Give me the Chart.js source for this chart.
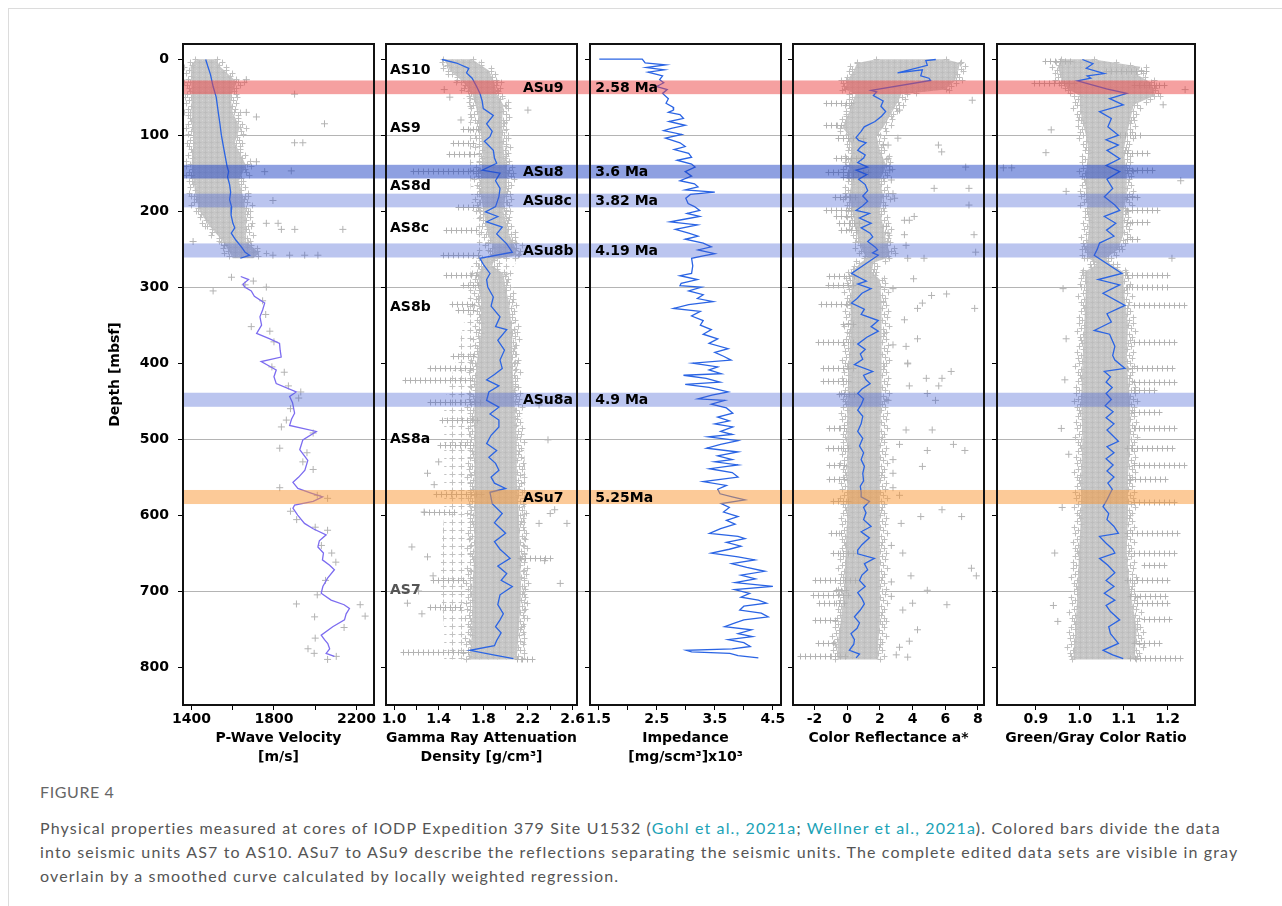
<!DOCTYPE html>
<html>
<head>
<meta charset="utf-8">
<title>Figure 4 - Site U1532 physical properties</title>
<script src="https://cdn.jsdelivr.net/npm/chart.js@4.4.1/dist/chart.umd.min.js"></script>
<style>
  body { margin: 0; background: #fff; }
  #page { position: relative; width: 1282px; height: 906px; overflow: hidden; background: #fff; }
  #page .edge { position: absolute; left: 8px; top: 8px; right: -2px; bottom: -2px; border-left: 1px solid #dcdcdc; border-top: 1px solid #dcdcdc; }
  canvas { position: absolute; top: 30px; }
  .figno { position: absolute; left: 40px; top: 782px; font: 16px Lato, sans-serif; color: #666; letter-spacing: 0.6px; }
  .caption { position: absolute; left: 40px; top: 816px; font: 16px/24px Lato, sans-serif; color: #555; letter-spacing: 1.15px; white-space: nowrap; }
  .caption a { color: #1ba2b6; text-decoration: none; }
</style>
</head>
<body>
<div id="page">
  <div class="edge"></div>
  <canvas id="pwave" width="286" height="740" style="left:100px"></canvas>
  <canvas id="gra" width="214" height="740" style="left:376px"></canvas>
  <canvas id="imp" width="213" height="740" style="left:580px"></canvas>
  <canvas id="refl" width="214" height="740" style="left:783px"></canvas>
  <canvas id="ratio" width="213" height="740" style="left:987px"></canvas>
  <div class="figno">FIGURE 4</div>
  <div class="caption">
    Physical properties measured at cores of IODP Expedition 379 Site U1532 (<a>Gohl et al., 2021a</a>; <a>Wellner et al., 2021a</a>). Colored bars divide the data<br>
    into seismic units AS7 to AS10. ASu7 to ASu9 describe the reflections separating the seismic units. The complete edited data sets are visible in gray<br>
    overlain by a smoothed curve calculated by locally weighted regression.
  </div>
</div>
<script>
// depth axis, shared by all five panels
const depthTicks = [0, 100, 200, 300, 400, 500, 600, 700, 800]
const gridDepths = [100, 300, 500, 700]

// seismic reflectors (colored bars), depth in mbsf
const bandTop = [28, 139, 177, 242.5, 439, 567]
const bandBottom = [46, 157, 195, 261, 457.5, 585.5]
const reflectorNames = ['ASu9', 'ASu8', 'ASu8c', 'ASu8b', 'ASu8a', 'ASu7']
const reflectorAges = ['2.58 Ma', '3.6 Ma', '3.82 Ma', '4.19 Ma', '4.9 Ma', '5.25Ma']
const unitNames = ['AS10', 'AS9', 'AS8d', 'AS8c', 'AS8b', 'AS8a', 'AS7']
const unitDepths = [15, 91, 168, 222, 326, 501, 699]

// P-wave velocity [m/s]
const pwDepth = [0.4, 10, 20, 36, 50, 70, 85, 100, 115, 130, 140, 148, 155, 165, 175, 185, 195, 205, 216, 222, 229, 238, 247, 254, 258, 262]
const pwVel = [1469, 1480, 1492, 1505, 1520, 1530, 1538, 1545, 1555, 1565, 1572, 1580, 1575, 1585, 1590, 1585, 1595, 1592, 1601, 1610, 1593, 1615, 1642, 1660, 1682, 1637]
const pwDepthLow = [286, 290, 296, 300, 305, 312, 321, 330, 339, 350,
  361, 368, 374, 383, 392, 398, 409, 418, 427, 438,
  444, 452, 466, 474, 482, 490, 501, 514, 528, 541,
  550, 557, 565, 571, 576, 582, 587, 591, 600, 611,
  618, 626, 634, 642, 650, 659, 666, 672, 683, 694,
  703, 712, 718, 723, 730, 738, 747, 758, 764, 769,
  776, 782, 786]
const pwVelLow = [1639, 1677, 1650, 1658, 1690, 1705, 1755, 1745, 1732, 1740,
  1716, 1780, 1827, 1830, 1835, 1738, 1811, 1800, 1811, 1908,
  1876, 1890, 1900, 1885, 1876, 2005, 1940, 1925, 1964, 1950,
  1920, 1892, 1916, 1980, 2036, 1990, 1900, 1892, 1915, 1948,
  1990, 2053, 2020, 2013, 2040, 2035, 2070, 2093, 2060, 2037,
  2029, 2077, 2140, 2166, 2150, 2142, 2085, 2029, 2045, 2061,
  2070, 2053, 2093]
const pwCloudDepth = [0, 10, 30, 50, 70, 90, 110, 140, 160, 180, 200, 220, 240, 255, 262]
const pwCloudMin = [1420, 1395, 1400, 1400, 1400, 1405, 1410, 1400, 1410, 1420, 1440, 1488, 1553, 1586, 1600]
const pwCloudMax = [1520, 1540, 1620, 1590, 1600, 1635, 1610, 1665, 1630, 1650, 1665, 1665, 1665, 1730, 1700]
const pwOutVel = [1666, 1900, 1666, 1715, 2045, 1900, 1940, 1715, 1755, 1884,
  1400, 1795, 1763, 1820, 1836, 1901, 2134, 1408, 1561, 1795,
  1876, 1949, 2013, 1594, 1505, 1763, 1700, 1660, 1745, 1760,
  1690, 1780, 1800, 1790, 1850, 1870, 1930, 1920, 1880, 1860,
  1836, 1990, 1828, 1960, 1940, 1990, 1828, 2010, 2060, 1880,
  1910, 2000, 2060, 2030, 2080, 2100, 2050, 2010, 1909, 2218,
  2242, 1997, 2140, 2000, 1965, 1995, 2102, 2060]
const pwOutDepth = [27, 46, 70, 76, 85, 110, 110, 135, 148, 147,
  153, 186, 216, 216, 224, 224, 224, 240, 245, 258,
  258, 258, 258, 287, 305, 300, 292, 297, 318, 336,
  352, 358, 372, 405, 412, 430, 438, 446, 460, 475,
  484, 492, 512, 518, 530, 540, 564, 574, 578, 595,
  606, 616, 620, 640, 650, 662, 686, 705, 717, 718,
  733, 734, 748, 762, 776, 782, 786, 790]

// gamma ray attenuation density [g/cm3]
const graDepth = [0.4, 5, 12, 18, 25, 36, 45, 55, 65, 74,
  85, 95, 102, 108, 120, 130, 137, 146, 150, 160,
  170, 181, 194, 201, 207, 214, 221, 230, 243, 254,
  262, 270, 282, 290, 300, 313, 325, 339, 352, 356,
  370, 383, 396, 407, 415, 422, 430, 438, 449, 458,
  467, 475, 484, 495, 506, 515, 524, 532, 541, 550,
  558, 565, 570, 585, 598, 610, 624, 635, 645, 657,
  667, 677, 686, 694, 705, 718, 730, 738, 747, 755,
  765, 772, 778, 784, 789]
const graDensity = [1.43, 1.56, 1.67, 1.65, 1.70, 1.74, 1.77, 1.79, 1.80, 1.89,
  1.83, 1.88, 1.86, 1.81, 1.89, 1.90, 1.92, 1.79, 1.95, 1.91,
  1.95, 1.94, 1.91, 1.82, 1.93, 1.83, 1.97, 1.92, 2.01, 2.06,
  1.77, 1.80, 1.86, 1.83, 1.84, 1.89, 1.87, 1.95, 1.91, 2.01,
  1.93, 1.99, 1.95, 1.97, 1.90, 1.83, 1.94, 1.85, 1.83, 1.94,
  1.86, 1.94, 1.94, 1.87, 1.83, 1.92, 1.85, 1.91, 1.94, 1.87,
  1.90, 2.00, 1.86, 1.88, 1.97, 1.90, 2.00, 1.90, 1.95, 2.04,
  1.93, 2.01, 1.96, 2.06, 1.95, 1.93, 1.98, 1.95, 1.91, 1.96,
  1.92, 1.90, 1.68, 1.89, 2.07]
const graCloudDepth = [0, 15, 30, 45, 60, 80, 100, 130, 150, 180, 200, 230, 245, 258, 264, 272, 282, 300, 320, 360, 400, 450, 500, 550, 600, 650, 700, 750, 790]
const graCloudMin = [1.45, 1.50, 1.62, 1.70, 1.73, 1.76, 1.78, 1.80, 1.78, 1.78, 1.80, 1.84, 1.88, 1.90, 1.78, 1.80, 1.76, 1.76, 1.78, 1.78, 1.74, 1.72, 1.72, 1.72, 1.72, 1.72, 1.70, 1.70, 1.68]
const graCloudMax = [1.70, 1.85, 1.90, 1.92, 1.98, 1.97, 1.97, 1.99, 2.02, 2.00, 1.98, 2.03, 2.08, 2.10, 1.90, 1.88, 1.98, 2.00, 2.03, 2.06, 2.06, 2.08, 2.10, 2.10, 2.12, 2.13, 2.14, 2.12, 2.10]
const graHaloDepth = [0, 30, 60, 100, 150, 200, 250, 262, 285, 330, 400, 450, 500, 550, 600, 650, 700, 750, 790]
const graHaloMin = [1.40, 1.55, 1.65, 1.68, 1.68, 1.70, 1.75, 1.70, 1.68, 1.65, 1.55, 1.45, 1.45, 1.45, 1.45, 1.42, 1.42, 1.45, 1.45]
const graHaloMax = [1.75, 1.95, 2.02, 2.02, 2.04, 2.04, 2.12, 2.12, 2.02, 2.08, 2.10, 2.14, 2.16, 2.18, 2.18, 2.20, 2.20, 2.18, 2.18]
const graStreakDepth = [92, 110, 125, 147, 194, 225, 258, 284, 297, 322, 330, 390, 407, 422, 451, 475, 508, 572, 596, 657, 686, 721, 780, 789]
const graStreakFrom = [1.62, 1.53, 1.49, 1.17, 1.57, 1.47, 1.44, 1.47, 1.62, 1.52, 1.57, 1.53, 1.32, 1.10, 1.32, 1.43, 1.41, 1.38, 1.27, 2.13, 1.35, 1.32, 1.08, 2.10]
const graStreakTo = [1.76, 1.74, 1.74, 1.77, 1.77, 1.77, 1.77, 1.77, 1.77, 1.74, 1.74, 1.74, 1.71, 1.71, 1.77, 1.77, 1.68, 1.80, 1.56, 2.43, 1.65, 1.62, 1.70, 2.24]
const graOutDensity = [2.20, 2.38, 1.27, 1.16, 1.12, 1.35, 2.49, 2.55, 2.44, 2.40, 1.30, 1.36, 1.40, 2.30, 2.35, 1.22, 1.25, 1.30, 2.30, 1.45, 1.50, 1.60]
const graOutDepth = [67, 501, 596, 642, 716, 680, 690, 611, 593, 598, 545, 560, 530, 611, 660, 700, 730, 655, 455, 40, 50, 80]

// impedance [mg/scm3] x10^3
const impDepth = [0, 0, 5, 7.5, 11, 14, 17, 22, 27, 31,
  36, 40, 45, 52, 58, 63, 67, 70, 73, 78,
  82, 87, 91, 94, 99, 104, 110, 115, 119, 124,
  129, 133, 138, 142, 148, 154, 160, 164, 168, 172,
  175, 178, 183, 190, 194, 199, 203, 207, 211, 214,
  218, 224, 229, 233, 237, 242, 247, 251, 256, 259,
  262, 272, 282, 285, 290, 295, 298, 300, 305, 310,
  315, 319, 323, 328, 332, 338, 344, 350, 356, 362,
  368, 374, 381, 386, 391, 396, 400, 405, 409, 414,
  416, 420, 425, 428, 432, 438, 442, 447, 449, 454,
  459, 466, 471, 476, 480, 484, 490, 494, 497, 502,
  507, 512, 517, 522, 527, 530, 534, 539, 544, 550,
  556, 561, 566, 572, 576, 580, 585, 590, 596, 602,
  607, 612, 618, 624, 628, 631, 636, 641, 645, 650,
  655, 659, 664, 669, 674, 679, 684, 689, 694, 698,
  703, 708, 712, 716, 720, 725, 729, 734, 738, 742,
  747, 751, 756, 760, 764, 768, 773, 776, 778, 780,
  782, 785, 788]
const impValue = [1.51, 2.25, 2.30, 2.65, 2.32, 2.63, 2.35, 2.60, 2.55, 2.62,
  2.50, 2.68, 2.60, 2.70, 2.66, 2.78, 2.79, 2.70, 2.90, 2.96,
  2.71, 2.99, 2.75, 2.62, 2.93, 2.65, 2.90, 2.99, 2.80, 3.05,
  3.10, 2.85, 3.10, 3.16, 2.99, 3.10, 2.90, 3.15, 3.21, 2.99,
  3.50, 3.08, 3.00, 3.04, 3.15, 3.24, 3.02, 3.24, 2.95, 2.73,
  3.20, 2.82, 3.05, 3.21, 2.99, 3.30, 3.44, 3.21, 3.50, 3.30,
  3.10, 3.12, 3.10, 2.90, 3.20, 2.92, 2.90, 3.27, 3.05, 3.30,
  3.20, 3.47, 3.05, 2.79, 3.25, 3.10, 3.30, 3.25, 3.44, 3.30,
  3.55, 3.40, 3.73, 3.50, 3.65, 3.78, 3.12, 3.55, 3.40, 3.61,
  2.96, 3.35, 3.59, 2.99, 3.40, 3.73, 3.45, 3.21, 3.67, 3.44,
  3.70, 3.81, 3.55, 3.75, 3.50, 3.81, 3.60, 3.80, 3.39, 3.90,
  3.60, 3.36, 3.90, 3.55, 3.80, 3.50, 3.90, 3.41, 3.80, 3.90,
  3.30, 3.70, 3.55, 3.59, 3.80, 4.02, 3.61, 3.75, 3.65, 3.90,
  3.70, 3.85, 3.60, 3.41, 3.90, 4.02, 3.70, 3.95, 3.75, 3.44,
  3.90, 4.19, 3.79, 4.05, 4.36, 3.95, 4.20, 3.85, 4.50, 3.84,
  4.10, 3.95, 4.25, 4.39, 4.00, 3.93, 4.30, 4.42, 4.00, 3.85,
  3.67, 4.13, 3.90, 4.15, 3.73, 4.00, 4.11, 3.80, 3.01, 3.10,
  3.76, 3.90, 4.25]

// color reflectance a*
const reflDepth = [0.4, 1.7, 8, 18, 14, 22, 25, 28, 41, 43,
  48, 55, 62, 69, 75, 82, 89, 95, 103, 107,
  110, 116, 120, 126, 130, 136, 142, 146, 152, 158,
  165, 173, 180, 187, 193, 199, 203, 209, 216, 222,
  229, 234, 240, 247, 251, 255, 258, 282, 288, 292,
  296, 302, 308, 315, 321, 329, 336, 344, 352, 358,
  366, 375, 382, 388, 395, 402, 411, 416, 422, 427,
  434, 440, 447, 455, 462, 470, 480, 490, 499, 509,
  518, 527, 536, 545, 555, 562, 570, 576, 582, 590,
  597, 606, 615, 622, 630, 639, 646, 651, 657, 664,
  672, 679, 686, 694, 702, 710, 717, 725, 734, 742,
  749, 756, 764, 770, 778, 783, 788]
const reflValue = [5.42, 4.81, 4.90, 3.08, 4.60, 4.50, 5.00, 5.10, 1.46, 1.80,
  1.60, 2.20, 2.06, 2.35, 2.10, 1.70, 1.04, 0.85, 0.54, 0.70,
  1.15, 0.80, 0.64, 1.10, 1.00, 0.64, 1.25, 0.54, 1.20, 0.70,
  1.10, 1.25, 0.95, 1.25, 0.95, 0.54, 1.36, 0.75, 1.46, 0.85,
  1.40, 1.56, 1.25, 1.70, 1.86, 1.55, 1.90, 0.26, 0.80, 1.17,
  0.64, 1.46, 0.90, 0.60, 0.26, 1.05, 0.85, 1.90, 1.46, 1.90,
  1.20, 0.64, 1.10, 0.80, 0.95, 0.44, 1.56, 1.00, 1.15, 1.40,
  0.90, 0.64, 1.00, 0.85, 0.64, 0.95, 0.85, 0.64, 0.95, 0.75,
  1.00, 0.85, 1.05, 0.95, 1.00, 0.80, 0.85, 0.85, 1.36, 1.00,
  1.15, 1.00, 1.46, 0.85, 1.36, 0.90, 0.64, 0.64, 1.66, 1.05,
  1.25, 0.90, 0.75, 1.10, 0.64, 0.90, 1.05, 0.80, 0.44, 0.75,
  0.60, 0.23, 0.44, 0.40, 0.13, 0.75, 0.54]
const reflCloudDepth = [0, 5, 15, 28, 40, 46, 52, 60, 75, 90, 100, 120, 140, 160, 180, 200, 220, 240, 255, 262, 268, 280, 290, 320, 360, 400, 450, 500, 550, 600, 650, 700, 740, 770, 790]
const reflCloudMin = [1.8, 0.6, 0.4, 0.0, -0.1, 0.5, 0.4, 0.3, 0.0, -0.3, 0.1, 0.3, 0.1, 0.3, 0.1, 0.3, 0.5, 0.7, 1.0, 1.2, 0.8, 0.3, 0.3, 0.2, 0.2, 0.1, 0.0, 0.0, 0.0, 0.0, -0.1, -0.2, -0.4, -0.6, -0.6]
const reflCloudMax = [6.0, 6.9, 6.8, 6.6, 6.0, 3.3, 3.2, 3.0, 2.6, 2.2, 1.8, 2.0, 2.4, 2.0, 2.2, 2.0, 2.2, 2.4, 2.6, 2.4, 1.6, 1.5, 2.0, 2.1, 2.1, 2.1, 2.1, 2.0, 2.0, 2.0, 2.0, 2.0, 2.0, 1.9, 1.9]
const reflStreakDepth = [58, 87, 104, 130, 148, 155, 181, 199, 207, 216, 225, 286, 297, 322, 348, 372, 406, 424, 441, 486, 512, 534, 552, 582, 624, 650, 686, 699, 705, 716, 738, 769, 786]
const reflStreakFrom = [-1.29, -1.29, -0.58, -0.68, -1.19, -0.27, -0.78, -1.29, -0.68, -0.48, -0.38, -1.09, -1.19, -1.59, -0.27, -1.80, -1.49, -1.49, -0.48, -1.09, -1.19, -1.09, -1.09, -0.88, -0.98, -0.88, -2.00, -0.68, -2.10, -1.70, -2.00, -1.80, -2.91]
const reflStreakTo = [0.34, -0.07, 0.96, 0.96, 1.36, 0.75, 0.75, 0.54, 0.54, 0.75, 0.75, 0.54, 0.54, 0.34, 0.54, 0.54, 0.54, 0.13, 0.54, 0.13, 0.13, 0.13, 0.13, 0.13, -0.07, 0.54, 0.54, 0.13, 0.13, -0.07, -0.68, -0.68, 0.13]
const reflOutValue = [7.65, 3.2, 3.1, 2.2, 2.5, 5.58, 5.78, 2.5, 7.25, 2.6,
  2.7, 5.32, 7.45, 2.8, 2.9, 7.45, 4.1, 3.5, 3.8, 2.4,
  2.5, 3.5, 7.76, 3.6, 7.86, 3.7, 4.7, 4.06, 2.8, 5.16,
  6.08, 4.6, 4.3, 7.8, 3.5, 4.3, 2.8, 3.6, 3.7, 3.7,
  6.36, 4.84, 5.8, 3.8, 5.6, 4.9, 5.4, 2.5, 3.6, 5.2,
  3.2, 6.5, 4.9, 7.2, 2.8, 4.6, 2.8, 2.8, 3.2, 5.8,
  4.5, 7.0, 3.3, 2.7, 3.4, 7.6, 7.9, 3.9, 2.7, 4.9,
  2.7, 4.0, 6.1, 3.4, 4.3, 3.8, 3.2, 3.0, 3.7]
const reflOutDepth = [54, 67, 104, 113, 113, 113, 122, 131, 142, 146,
  159, 170, 170, 177, 183, 192, 207, 212, 212, 220,
  229, 231, 231, 245, 254, 262, 262, 289, 302, 311,
  309, 321, 328, 328, 343, 368, 376, 378, 400, 401,
  411, 420, 420, 430, 430, 440, 449, 449, 488, 488,
  507, 507, 515, 515, 527, 536, 545, 564, 574, 593,
  602, 602, 611, 640, 650, 670, 680, 680, 688, 699,
  707, 716, 718, 725, 751, 766, 774, 784, 787]

// green/gray color ratio
const ratioDepth = [0.4, 6, 12, 19, 22, 25, 28.5, 39, 45, 52,
  60, 69, 78, 89, 100, 106, 113, 120, 131, 140,
  148, 158, 170, 181, 192, 199, 207, 216, 225, 233,
  242, 250, 258, 282, 290, 297, 308, 324, 335, 346,
  357, 362, 378, 390, 396, 407, 411, 418, 425, 432,
  440, 448, 456, 464, 472, 480, 488, 496, 503, 510,
  518, 526, 534, 542, 550, 558, 566, 573, 580, 589,
  598, 606, 615, 624, 628, 637, 645, 650, 657, 666,
  676, 686, 694, 703, 712, 719, 727, 738, 747, 756,
  769, 778, 784, 789]
const ratioValue = [1.006, 1.030, 1.015, 1.056, 1.017, 1.025, 0.995, 1.061, 1.107, 1.068,
  1.099, 1.045, 1.072, 1.064, 1.088, 1.060, 1.088, 1.062, 1.091, 1.060,
  1.091, 1.062, 1.075, 1.056, 1.080, 1.091, 1.056, 1.082, 1.061, 1.078,
  1.045, 1.040, 1.033, 1.096, 1.042, 1.091, 1.053, 1.103, 1.062, 1.072,
  1.033, 1.068, 1.080, 1.075, 1.080, 1.103, 1.056, 1.070, 1.060, 1.074,
  1.060, 1.072, 1.058, 1.076, 1.060, 1.078, 1.062, 1.076, 1.088, 1.062,
  1.078, 1.060, 1.076, 1.062, 1.078, 1.064, 1.074, 1.068, 1.062, 1.053,
  1.066, 1.062, 1.078, 1.088, 1.045, 1.060, 1.075, 1.080, 1.045, 1.064,
  1.080, 1.060, 1.078, 1.056, 1.080, 1.060, 1.070, 1.091, 1.066, 1.070,
  1.088, 1.053, 1.075, 1.099]
const ratioCloudDepth = [0, 10, 20, 30, 40, 48, 60, 80, 100, 120, 150, 180, 200, 230, 250, 262, 270, 280, 300, 350, 400, 450, 500, 550, 600, 650, 700, 750, 790]
const ratioCloudMin = [0.96, 0.95, 0.955, 0.96, 0.975, 1.0, 1.0, 1.005, 1.014, 1.02, 1.014, 1.014, 1.02, 1.02, 1.014, 1.02, 1.04, 1.01, 1.014, 1.01, 1.006, 1.003, 1.006, 1.003, 1.003, 0.998, 0.995, 0.99, 0.985]
const ratioCloudMax = [1.03, 1.138, 1.13, 1.16, 1.17, 1.17, 1.123, 1.115, 1.107, 1.10, 1.107, 1.107, 1.10, 1.10, 1.088, 1.06, 1.07, 1.10, 1.10, 1.11, 1.107, 1.115, 1.115, 1.11, 1.11, 1.107, 1.115, 1.13, 1.125]
const ratioStreakDepth = [2, 31, 15, 34, 100, 124, 146, 181, 199, 214, 236, 284, 300, 324, 372, 407, 425, 435, 464, 486, 512, 534, 552, 583, 624, 650, 666, 686, 706, 716, 737, 768, 788]
const ratioStreakFrom = [0.920, 0.896, 1.060, 1.123, 1.092, 1.107, 1.107, 1.107, 1.107, 1.107, 1.107, 1.107, 1.107, 1.123, 1.123, 1.107, 1.123, 1.123, 1.123, 1.123, 1.107, 1.123, 1.115, 1.123, 1.107, 1.123, 1.146, 1.107, 1.115, 1.131, 1.146, 1.123, 1.115]
const ratioStreakTo = [0.983, 0.990, 1.154, 1.201, 1.146, 1.162, 1.170, 1.138, 1.185, 1.162, 1.138, 1.205, 1.205, 1.240, 1.217, 1.217, 1.221, 1.178, 1.185, 1.221, 1.217, 1.240, 1.201, 1.217, 1.221, 1.217, 1.201, 1.201, 1.201, 1.201, 1.213, 1.185, 1.240]
const ratioOutValue = [0.935, 0.923, 0.969, 0.962, 0.969, 0.966, 0.958, 0.943, 0.940, 0.826, 0.845, 0.950, 0.960, 0.975, 1.240, 1.19, 1.21, 1.23]
const ratioOutDepth = [93, 123, 174, 302, 368, 422, 486, 650, 719, 143, 143, 740, 590, 520, 40, 60, 262, 160]

// styles
const axisFont = { family: '"DejaVu Sans", Verdana, sans-serif', size: 14, weight: 'bold' }
const bandColors = ['rgba(235,65,65,0.5)', 'rgba(30,65,195,0.5)', 'rgba(60,90,210,0.35)', 'rgba(60,90,210,0.35)', 'rgba(60,90,210,0.35)', 'rgba(250,150,50,0.5)']
const curveBlue = '#2a64e4'
const curvePurple = '#7c6cf0'
const crossGray = '#b3b3b3'
// outward offsets (px) of the marks that roughen a cloud edge
const edgeJitter = [1, 4, 0, 6, 2, 5, 0, 3, 7, 1, 4, 2]

function points(xs, ys) {
  return xs.map((x, i) => ({ x: x, y: ys[i] }))
}

function cross(ctx, x, y, s) {
  ctx.moveTo(x - s, y)
  ctx.lineTo(x + s, y)
  ctx.moveTo(x, y - s)
  ctx.lineTo(x, y + s)
}

// tile of "+" marks used to texture the data clouds
function crossPattern(ctx, w, h, bg, fg, arm) {
  var c = document.createElement('canvas')
  c.width = w
  c.height = h
  var g = c.getContext('2d')
  if (bg) {
    g.fillStyle = bg
    g.fillRect(0, 0, w, h)
    g.fillStyle = '#d6d6d6'
    g.fillRect(0, 0, 1, 1)
  }
  g.strokeStyle = fg
  g.lineWidth = 1
  g.beginPath()
  cross(g, Math.floor(w / 2) + 0.5, Math.floor(h / 2) + 0.5, arm)
  g.stroke()
  return ctx.createPattern(c, 'repeat')
}

// polygon between the min and max edge of a data cloud
function fillCloud(ctx, xs, ys, c, style) {
  ctx.beginPath()
  c.depth.forEach(function (d, i) {
    var px = xs.getPixelForValue(c.min[i])
    var py = ys.getPixelForValue(d)
    if (i) ctx.lineTo(px, py)
    else ctx.moveTo(px, py)
  })
  for (var i = c.depth.length - 1; i >= 0; i--) {
    ctx.lineTo(xs.getPixelForValue(c.max[i]), ys.getPixelForValue(c.depth[i]))
  }
  ctx.closePath()
  ctx.fillStyle = style
  ctx.fill()
}

// "+" marks along one edge of a cloud, pushed outwards by edgeJitter
function edgeCrosses(ctx, xs, ys, depth, vals, dir) {
  var k = 0
  ctx.beginPath()
  for (var i = 0; i < depth.length - 1; i++) {
    var y1 = ys.getPixelForValue(depth[i])
    var y2 = ys.getPixelForValue(depth[i + 1])
    var x1 = xs.getPixelForValue(vals[i])
    var x2 = xs.getPixelForValue(vals[i + 1])
    for (var y = y1; y < y2; y += 3) {
      var x = x1 + ((x2 - x1) * (y - y1)) / (y2 - y1) + dir * edgeJitter[k++ % edgeJitter.length]
      cross(ctx, Math.round(x) + 0.5, Math.round(y) + 0.5, 3)
    }
  }
  ctx.stroke()
}

// rows of "+" marks (core sections measured at one depth)
function drawStreaks(ctx, xs, ys, s) {
  ctx.beginPath()
  s.depth.forEach(function (d, i) {
    var y = Math.round(ys.getPixelForValue(d)) + 0.5
    var x1 = xs.getPixelForValue(s.from[i])
    var x2 = xs.getPixelForValue(s.to[i])
    for (var x = x1; x <= x2; x += 5) cross(ctx, Math.round(x) + 0.5, y, 3)
  })
  ctx.stroke()
}

function makeDeco(cfg) {
  return {
    id: 'deco',
    beforeDatasetsDraw(chart) {
      var ctx = chart.ctx
      var a = chart.chartArea
      var xs = chart.scales.x
      var ys = chart.scales.y
      ctx.save()
      // depth lines run on through the gap to the next panel
      ctx.strokeStyle = '#b4b4b4'
      ctx.lineWidth = 1
      gridDepths.forEach(function (d) {
        var y = Math.round(ys.getPixelForValue(d)) + 0.5
        ctx.beginPath()
        ctx.moveTo(a.left, y)
        ctx.lineTo(a.right + cfg.gap, y)
        ctx.stroke()
      })
      ctx.beginPath()
      ctx.rect(a.left, a.top, a.right - a.left, a.bottom - a.top)
      ctx.clip()
      if (cfg.halo) fillCloud(ctx, xs, ys, cfg.halo, crossPattern(ctx, 9, 8, null, '#c2c2c2', 3))
      if (cfg.cloud) {
        var c = cfg.cloud
        fillCloud(ctx, xs, ys, c, crossPattern(ctx, 6, 5, '#c8c8c8', '#bdbdbd', 2))
        ctx.strokeStyle = '#c0c0c0'
        ctx.lineWidth = 1
        edgeCrosses(ctx, xs, ys, c.depth, c.min, -1)
        edgeCrosses(ctx, xs, ys, c.depth, c.max, 1)
      }
      if (cfg.streaks) {
        ctx.strokeStyle = crossGray
        ctx.lineWidth = 1
        drawStreaks(ctx, xs, ys, cfg.streaks)
      }
      ctx.restore()
    },
    afterDatasetsDraw(chart) {
      var ctx = chart.ctx
      var a = chart.chartArea
      var xs = chart.scales.x
      var ys = chart.scales.y
      ctx.save()
      bandTop.forEach(function (t, i) {
        var y1 = ys.getPixelForValue(t)
        var y2 = ys.getPixelForValue(bandBottom[i])
        ctx.fillStyle = bandColors[i]
        ctx.fillRect(a.left, y1, a.right + cfg.gap - a.left, y2 - y1)
      })
      ctx.font = 'bold 14px "DejaVu Sans", Verdana, sans-serif'
      ctx.textBaseline = 'middle'
      ctx.textAlign = 'left'
      if (cfg.bandText) {
        ctx.fillStyle = '#000'
        cfg.bandText.labels.forEach(function (t, i) {
          var y = ys.getPixelForValue((bandTop[i] + bandBottom[i]) / 2)
          ctx.fillText(t, xs.getPixelForValue(cfg.bandText.x), y + 1)
        })
      }
      if (cfg.unitText) {
        cfg.unitText.labels.forEach(function (t, i) {
          ctx.fillStyle = t === 'AS7' ? '#555' : '#000'
          ctx.fillText(t, xs.getPixelForValue(cfg.unitText.x), ys.getPixelForValue(cfg.unitText.depth[i]))
        })
      }
      ctx.strokeStyle = '#111'
      ctx.lineWidth = 2
      ctx.strokeRect(a.left, a.top, a.right - a.left, a.bottom - a.top)
      ctx.restore()
    },
  }
}

function drawPanel(id, cfg) {
  var datasets = cfg.curves.map(function (c) {
    return {
      data: points(c.x, c.y),
      showLine: true,
      borderColor: c.color,
      borderWidth: 1.3,
      pointRadius: 0,
      tension: 0,
    }
  })
  if (cfg.outliers) {
    datasets.push({
      data: points(cfg.outliers.x, cfg.outliers.y),
      showLine: false,
      pointStyle: 'cross',
      pointRadius: 3.5,
      borderColor: crossGray,
      backgroundColor: crossGray,
      borderWidth: 1,
    })
  }

  new Chart(document.getElementById(id), {
    type: 'scatter',
    data: { datasets: datasets },
    options: {
      responsive: false,
      animation: false,
      events: [],
      layout: { padding: { left: cfg.padLeft, right: cfg.gap, top: 14, bottom: 0 } },
      plugins: { legend: { display: false }, tooltip: { enabled: false } },
      scales: {
        x: {
          type: 'linear',
          min: cfg.xMin,
          max: cfg.xMax,
          afterBuildTicks: function (s) {
            s.ticks = cfg.xTicks.map((v) => ({ value: v }))
          },
          afterFit: function (s) {
            s.height = 65
            s.paddingLeft = 0
            s.paddingRight = 0
          },
          ticks: {
            autoSkip: false,
            maxRotation: 0,
            padding: 1,
            color: '#000',
            font: axisFont,
            callback: (v, i) => cfg.xLabels[i],
          },
          grid: { drawOnChartArea: false, drawTicks: true, tickLength: 5, color: '#000' },
          border: { display: false },
          title: {
            display: true,
            text: cfg.title,
            color: '#000',
            font: { family: axisFont.family, size: 14, weight: 'bold', lineHeight: 19 / 14 },
            padding: { top: 0, bottom: cfg.titlePad },
          },
        },
        y: {
          type: 'linear',
          reverse: true,
          min: -20,
          max: 850,
          afterBuildTicks: function (s) {
            s.ticks = depthTicks.map((v) => ({ value: v }))
          },
          afterFit: function (s) {
            s.width = cfg.yWidth
            s.paddingTop = 0
            s.paddingBottom = 0
          },
          ticks: { display: cfg.yWidth > 0, padding: 9, color: '#000', font: axisFont },
          grid: { drawOnChartArea: false, drawTicks: true, tickLength: 5, color: '#000' },
          border: { display: false },
          title: {
            display: cfg.yWidth > 0,
            text: 'Depth [mbsf]',
            color: '#000',
            font: axisFont,
            padding: { top: 7, bottom: 0 },
          },
        },
      },
    },
    plugins: [makeDeco(cfg)],
  })
}

drawPanel('pwave', {
  xMin: 1359, xMax: 2285,
  xTicks: [1400, 1600, 1800, 2000, 2200],
  xLabels: ['1400', '', '1800', '', '2200'],
  title: ['P-Wave Velocity', '[m/s]'], titlePad: 3.5,
  yWidth: 83, padLeft: 0, gap: 12,
  curves: [
    { x: pwVel, y: pwDepth, color: curveBlue },
    { x: pwVelLow, y: pwDepthLow, color: curvePurple },
  ],
  outliers: { x: pwOutVel, y: pwOutDepth },
  cloud: { depth: pwCloudDepth, min: pwCloudMin, max: pwCloudMax },
})

drawPanel('gra', {
  xMin: 0.928, xMax: 2.64,
  xTicks: [1.0, 1.2, 1.4, 1.6, 1.8, 2.0, 2.2, 2.4, 2.6],
  xLabels: ['1.0', '', '1.4', '', '1.8', '', '2.2', '', '2.6'],
  title: ['Gamma Ray Attenuation', 'Density [g/cm³]'], titlePad: 3.5,
  yWidth: 0, padLeft: 10, gap: 13,
  curves: [{ x: graDensity, y: graDepth, color: curveBlue }],
  outliers: { x: graOutDensity, y: graOutDepth },
  halo: { depth: graHaloDepth, min: graHaloMin, max: graHaloMax },
  cloud: { depth: graCloudDepth, min: graCloudMin, max: graCloudMax },
  streaks: { depth: graStreakDepth, from: graStreakFrom, to: graStreakTo },
  bandText: { x: 2.155, labels: reflectorNames },
  unitText: { x: 0.964, labels: unitNames, depth: unitDepths },
})

drawPanel('imp', {
  xMin: 1.35, xMax: 4.64,
  xTicks: [1.5, 2.0, 2.5, 3.0, 3.5, 4.0, 4.5],
  xLabels: ['1.5', '', '2.5', '', '3.5', '', '4.5'],
  title: ['Impedance', '[mg/scm³]x10³'], titlePad: 3.5,
  yWidth: 0, padLeft: 10, gap: 12,
  curves: [{ x: impValue, y: impDepth, color: curveBlue }],
  bandText: { x: 1.44, labels: reflectorAges },
})

drawPanel('refl', {
  xMin: -3.32, xMax: 8.37,
  xTicks: [-2, 0, 2, 4, 6, 8],
  xLabels: ['-2', '0', '2', '4', '6', '8'],
  title: 'Color Reflectance a*', titlePad: 22.5,
  yWidth: 0, padLeft: 10, gap: 13,
  curves: [{ x: reflValue, y: reflDepth, color: curveBlue }],
  outliers: { x: reflOutValue, y: reflOutDepth },
  cloud: { depth: reflCloudDepth, min: reflCloudMin, max: reflCloudMax },
  streaks: { depth: reflStreakDepth, from: reflStreakFrom, to: reflStreakTo },
})

drawPanel('ratio', {
  xMin: 0.8115, xMax: 1.2625,
  xTicks: [0.9, 1.0, 1.1, 1.2],
  xLabels: ['0.9', '1.0', '1.1', '1.2'],
  title: 'Green/Gray Color Ratio', titlePad: 22.5,
  yWidth: 0, padLeft: 10, gap: 0,
  curves: [{ x: ratioValue, y: ratioDepth, color: curveBlue }],
  outliers: { x: ratioOutValue, y: ratioOutDepth },
  cloud: { depth: ratioCloudDepth, min: ratioCloudMin, max: ratioCloudMax },
  streaks: { depth: ratioStreakDepth, from: ratioStreakFrom, to: ratioStreakTo },
})
</script>
</body>
</html>
